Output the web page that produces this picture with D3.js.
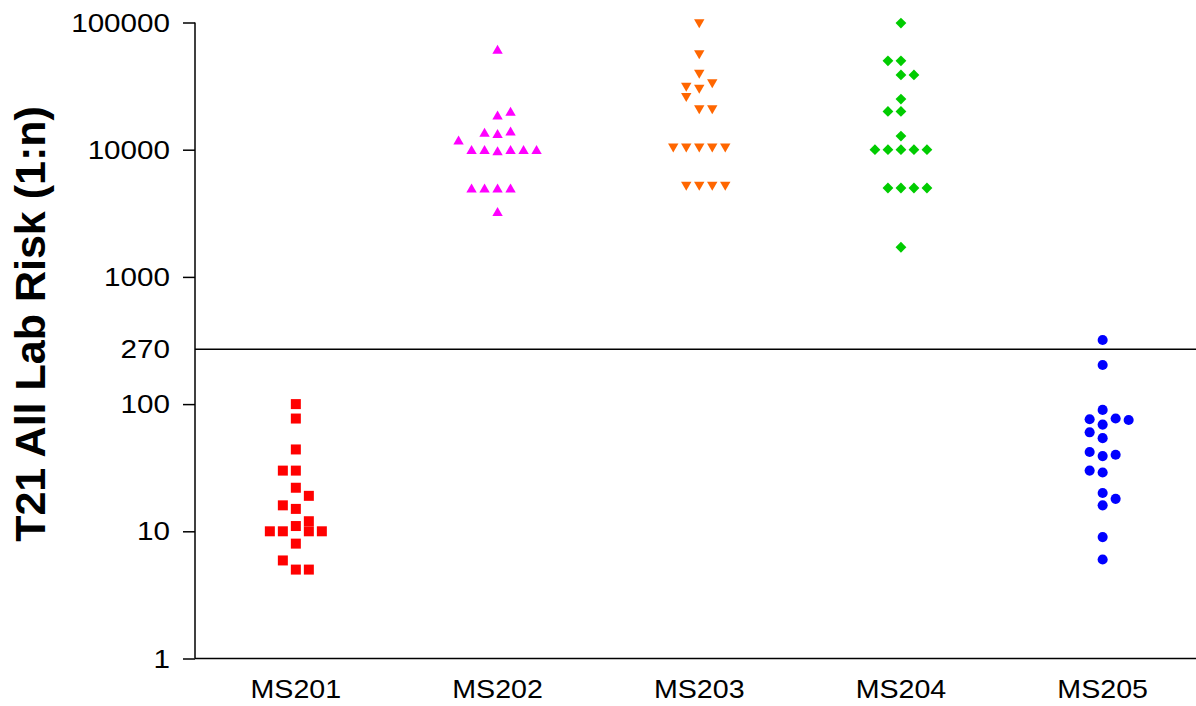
<!DOCTYPE html>
<html>
<head>
<meta charset="utf-8">
<script src="https://cdn.jsdelivr.net/npm/d3@7"></script>
<style>
  body { margin: 0; background: #fff; }
  svg text { font-family: "Liberation Sans", Arial, sans-serif; fill: #000; }
</style>
</head>
<body>
<svg id="chart" width="1196" height="706"></svg>
<script>
const categories = ["MS201", "MS202", "MS203", "MS204", "MS205"];
const ms201 = [100, 77, 44, 30, 30, 22, 19, 15, 16, 11, 12, 10, 10, 10, 10, 8, 5, 5.9, 5];
const ms202 = [61500, 13400, 13700, 18700, 20000, 14000, 9800, 10000, 10000, 10000, 10000, 11900, 10000, 5000, 5000, 5000, 5000, 3260];
const ms203 = [95000, 54000, 38000, 29000, 30000, 32000, 25000, 20000, 20000, 10000, 10000, 10000, 10000, 5000, 5000, 5000, 5000, 10000];
const ms204 = [99000, 50000, 50000, 38700, 38700, 20000, 20000, 25000, 12800, 10000, 10000, 10000, 10000, 10000, 5000, 5000, 5000, 5000, 1710];
const ms205 = [319, 203, 90, 69, 60, 77, 76, 75, 54, 39, 42, 40, 29, 30, 16, 18, 20, 9, 6];
const yTickValues = [1, 10, 100, 1000, 10000, 100000];
const cutoffValue = 270;
const yTitle = "T21 All Lab Risk (1:n)";

// ---------------- layout / style ----------------
const mLeft = 195, mRight = 1196, mTop = 22.5, mBottom = 658.5;
const slotW = 13;      // horizontal spacing of stacked points
const collide = 10;    // vertical distance under which points overlap
const tickStretch = 1.14, catStretch = 1.1;

const svg = d3.select("#chart");

const x = d3.scaleBand().domain(categories).range([mLeft, 1203.5]);
const y = d3.scaleLog().domain([1, 100000]).range([mBottom, mTop]);

// custom symbol types
const upTri = { draw(ctx) { ctx.moveTo(0, -4.6); ctx.lineTo(5.2, 4.4); ctx.lineTo(-5.2, 4.4); ctx.closePath(); } };
const downTri = { draw(ctx) { ctx.moveTo(-5.2, -6.2); ctx.lineTo(5.2, -6.2); ctx.lineTo(0, 2.8); ctx.closePath(); } };
const diamond = { draw(ctx) { ctx.moveTo(0, -5.4); ctx.lineTo(5.4, 0); ctx.lineTo(0, 5.4); ctx.lineTo(-5.4, 0); ctx.closePath(); } };

const series = [
  { cat: "MS201", values: ms201, color: "#ff0000", sym: d3.symbol().type(d3.symbolSquare).size(100) },
  { cat: "MS202", values: ms202, color: "#ff00ff", sym: d3.symbol().type(upTri) },
  { cat: "MS203", values: ms203, color: "#ff6600", sym: d3.symbol().type(downTri) },
  { cat: "MS204", values: ms204, color: "#00cc00", sym: d3.symbol().type(diamond) },
  { cat: "MS205", values: ms205, color: "#0000ff", sym: d3.symbol().type(d3.symbolCircle).size(80) }
];

// simple beeswarm: each point takes the nearest free column, balancing sides on ties
function swarm(values) {
  const placed = [];
  let neg = 0, pos = 0;
  return values.map(v => {
    const py = y(v);
    const free = s => !placed.some(p => p.slot === s && Math.abs(p.py - py) < collide);
    let slot = 0;
    for (let k = 0; k < 50; k++) {
      if (k === 0) { if (free(0)) { slot = 0; break; } continue; }
      const fn = free(-k), fp = free(k);
      if (fn && fp) { slot = neg <= pos ? -k : k; break; }
      if (fn) { slot = -k; break; }
      if (fp) { slot = k; break; }
    }
    if (slot < 0) neg++; else if (slot > 0) pos++;
    placed.push({ slot, py });
    return { v, slot };
  });
}

// ---------------- axes ----------------
const yAxis = d3.axisLeft(y)
  .tickValues(yTickValues.concat([cutoffValue]))
  .tickSize(12)
  .tickPadding(13)
  .tickFormat(d3.format("d"));

const gy = svg.append("g")
  .attr("transform", `translate(${mLeft},0)`)
  .call(yAxis)
  .attr("font-size", null)
  .attr("font-family", null);
gy.select(".domain").remove();
gy.selectAll(".tick line").attr("stroke", "#000").attr("stroke-width", 1.5);
gy.selectAll(".tick").filter(d => d === cutoffValue).select("line").remove();
gy.selectAll(".tick text")
  .attr("font-size", 26)
  .attr("dy", "0.33em")
  .attr("x", -25 / tickStretch)
  .attr("transform", `scale(${tickStretch},1)`)
  .attr("fill", "#000");

svg.append("line")
  .attr("x1", mLeft).attr("x2", mLeft)
  .attr("y1", y(100000)).attr("y2", y(1))
  .attr("stroke", "#000").attr("stroke-width", 1.5);

const xAxis = d3.axisBottom(x).tickSize(0).tickPadding(0);
const gx = svg.append("g")
  .attr("transform", `translate(0,${mBottom})`)
  .call(xAxis)
  .attr("font-size", null)
  .attr("font-family", null);
gx.select(".domain").remove();
gx.selectAll(".tick text")
  .attr("font-size", 26)
  .attr("dy", null)
  .attr("y", 40)
  .attr("transform", `scale(${catStretch},1)`)
  .attr("fill", "#000");

svg.append("line")
  .attr("x1", mLeft).attr("x2", mRight)
  .attr("y1", y(1)).attr("y2", y(1))
  .attr("stroke", "#000").attr("stroke-width", 1.5);

// cutoff line at 1:270
svg.append("line")
  .attr("x1", mLeft).attr("x2", mRight)
  .attr("y1", y(cutoffValue)).attr("y2", y(cutoffValue))
  .attr("stroke", "#000").attr("stroke-width", 1.5);

// y title
svg.append("text")
  .attr("transform", `translate(45,324) rotate(-90)`)
  .attr("text-anchor", "middle")
  .attr("font-size", 43)
  .attr("font-weight", "bold")
  .text(yTitle);

// ---------------- points ----------------
series.forEach(s => {
  const cx = x(s.cat) + x.bandwidth() / 2;
  const pts = swarm(s.values);
  svg.append("g").selectAll("path")
    .data(pts)
    .join("path")
    .attr("d", s.sym())
    .attr("fill", s.color)
    .attr("transform", d => `translate(${cx + d.slot * slotW},${y(d.v)})`);
});
</script>
</body>
</html>
